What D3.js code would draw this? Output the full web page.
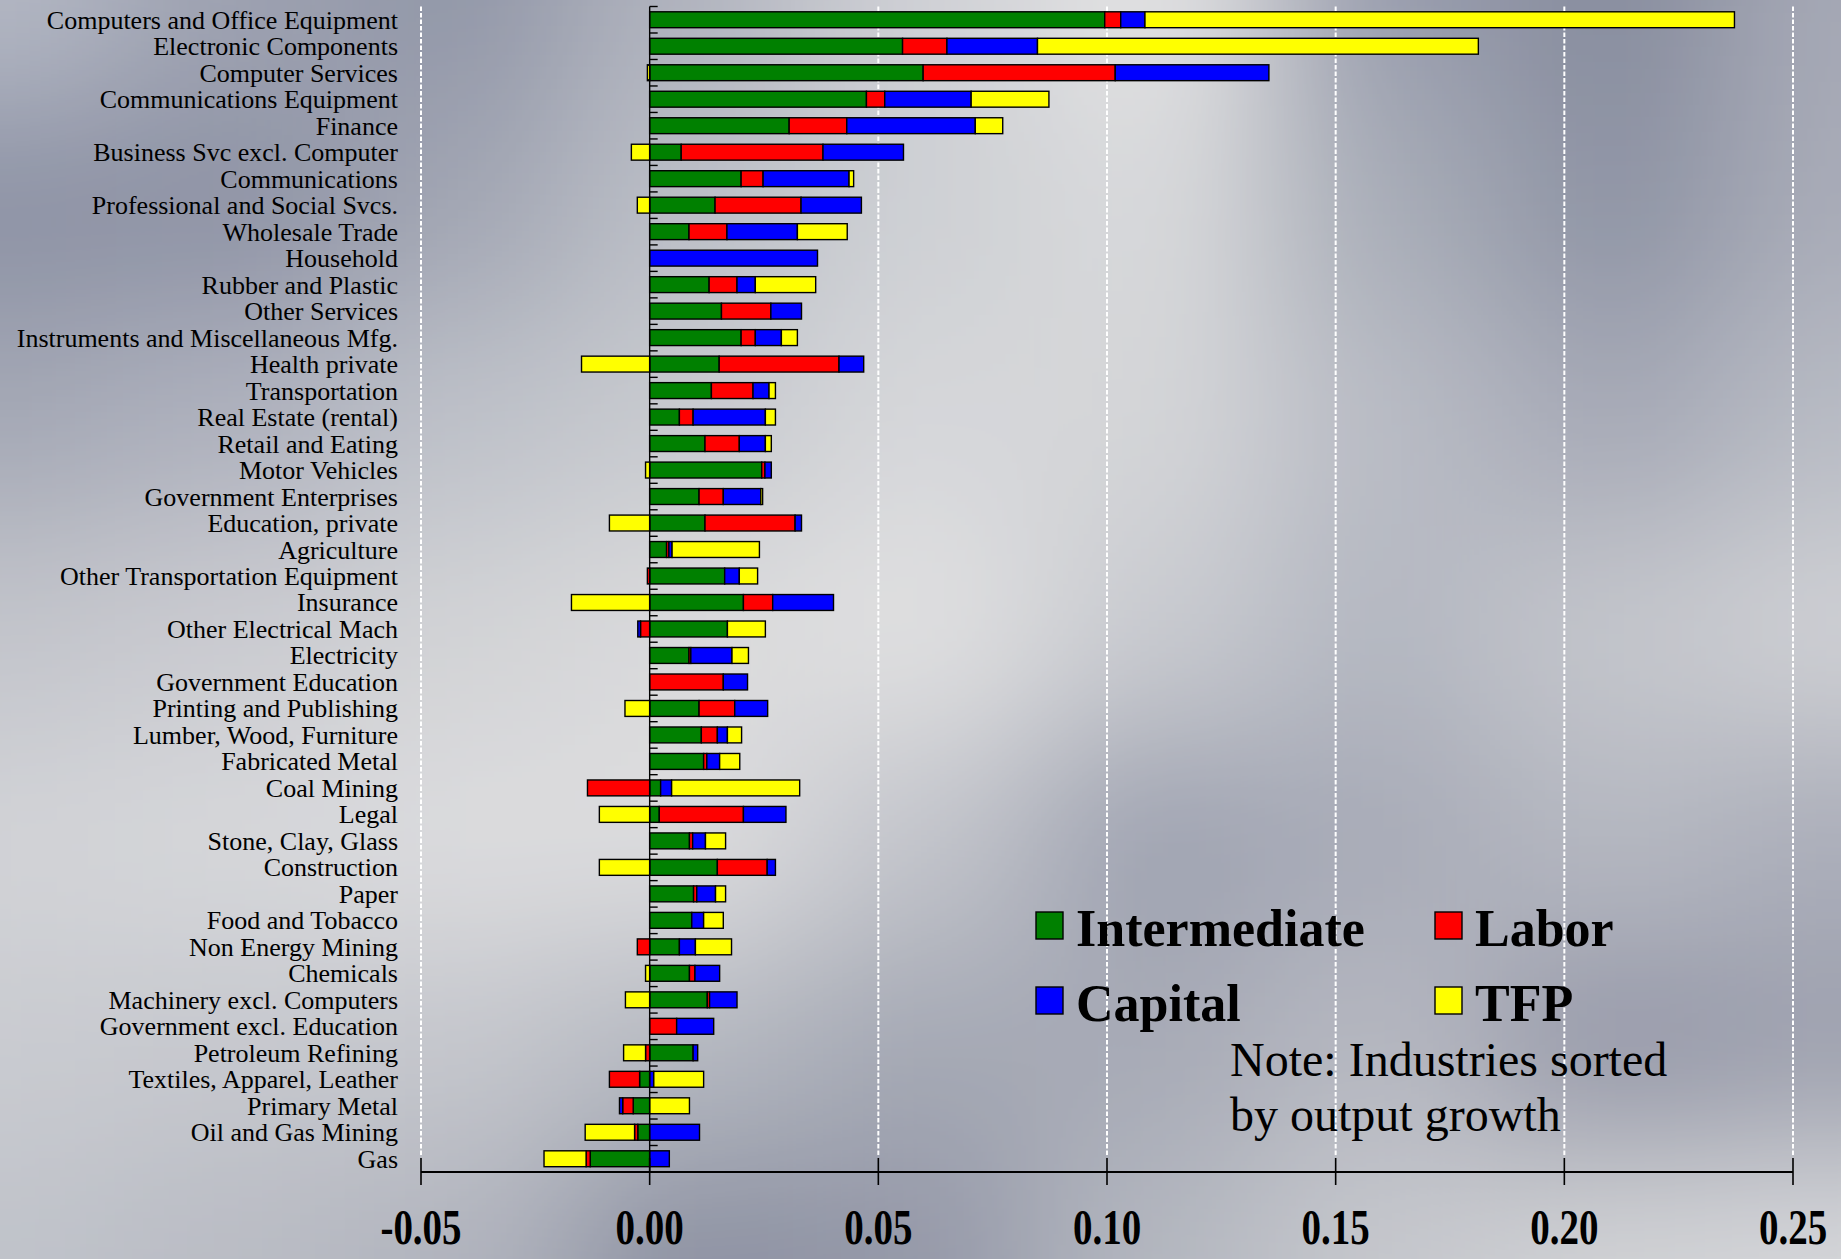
<!DOCTYPE html>
<html>
<head>
<meta charset="utf-8">
<script src="https://cdn.jsdelivr.net/npm/d3@7"></script>
<style>
  html, body { margin: 0; padding: 0; background: #c8cacf; overflow: hidden; }
  svg { display: block; }
  text { font-family: "Liberation Serif", "Times New Roman", serif; }
</style>
</head>
<body>
<svg id="chart" width="1841" height="1259"></svg>
<script>
// Industries, sorted by output growth (top = fastest)
const industries = [
  "Computers and Office Equipment", "Electronic Components", "Computer Services",
  "Communications Equipment", "Finance", "Business Svc excl. Computer", "Communications",
  "Professional and Social Svcs.", "Wholesale Trade", "Household", "Rubber and Plastic",
  "Other Services", "Instruments and Miscellaneous Mfg.", "Health private", "Transportation",
  "Real Estate (rental)", "Retail and Eating", "Motor Vehicles", "Government Enterprises",
  "Education, private", "Agriculture", "Other Transportation Equipment", "Insurance",
  "Other Electrical Mach", "Electricity", "Government Education", "Printing and Publishing",
  "Lumber, Wood, Furniture", "Fabricated Metal", "Coal Mining", "Legal", "Stone, Clay, Glass",
  "Construction", "Paper", "Food and Tobacco", "Non Energy Mining", "Chemicals",
  "Machinery excl. Computers", "Government excl. Education", "Petroleum Refining",
  "Textiles, Apparel, Leather", "Primary Metal", "Oil and Gas Mining", "Gas"
];

// Contributions to output growth by source
const intermediate = [
  0.0995, 0.0553, 0.0598, 0.0474, 0.0305, 0.0069, 0.0200, 0.0143, 0.0086, 0.0000, 0.0130,
  0.0157, 0.0200, 0.0152, 0.0135, 0.0065, 0.0121, 0.0245, 0.0108, 0.0121, 0.0037, 0.0164,
  0.0205, 0.0170, 0.0086, 0.0000, 0.0108, 0.0113, 0.0118, 0.0024, 0.0021, 0.0087, 0.0148,
  0.0096, 0.0092, 0.0065, 0.0087, 0.0126, 0.0000, 0.0095, -0.0022, -0.0036, -0.0026, -0.0130
];
const labor = [
  0.0035, 0.0097, 0.0420, 0.0040, 0.0126, 0.0310, 0.0048, 0.0188, 0.0083, 0.0000, 0.0061,
  0.0108, 0.0031, 0.0262, 0.0091, 0.0030, 0.0075, 0.0007, 0.0053, 0.0197, 0.0005, -0.0005,
  0.0064, -0.0020, 0.0004, 0.0161, 0.0078, 0.0035, 0.0007, -0.0136, 0.0184, 0.0007, 0.0109,
  0.0007, 0.0000, -0.0027, 0.0012, 0.0005, 0.0059, -0.0009, -0.0066, -0.0023, -0.0007, -0.0009
];
const capital = [
  0.0053, 0.0198, 0.0336, 0.0189, 0.0281, 0.0176, 0.0188, 0.0132, 0.0154, 0.0367, 0.0040,
  0.0067, 0.0057, 0.0054, 0.0035, 0.0158, 0.0057, 0.0014, 0.0082, 0.0014, 0.0007, 0.0032,
  0.0133, -0.0006, 0.0090, 0.0053, 0.0072, 0.0022, 0.0028, 0.0024, 0.0093, 0.0028, 0.0018,
  0.0041, 0.0026, 0.0035, 0.0054, 0.0060, 0.0081, 0.0010, 0.0009, -0.0007, 0.0109, 0.0043
];
const tfp = [
  0.1289, 0.0964, -0.0005, 0.0170, 0.0060, -0.0040, 0.0010, -0.0027, 0.0109, 0.0000, 0.0132,
  0.0000, 0.0035, -0.0149, 0.0014, 0.0022, 0.0013, -0.0009, 0.0004, -0.0088, 0.0191, 0.0040,
  -0.0171, 0.0083, 0.0036, 0.0000, -0.0054, 0.0031, 0.0044, 0.0280, -0.0110, 0.0044, -0.0110,
  0.0022, 0.0043, 0.0079, -0.0009, -0.0053, 0.0000, -0.0048, 0.0109, 0.0087, -0.0108, -0.0092
];

const seriesNames = ["Intermediate", "Labor", "Capital", "TFP"];
const seriesColors = ["#008000", "#ff0000", "#0000ff", "#ffff00"];

const tickValues = [-0.05, 0.00, 0.05, 0.10, 0.15, 0.20, 0.25];
const tickLabels = ["-0.05", "0.00", "0.05", "0.10", "0.15", "0.20", "0.25"];

const noteLines = ["Note: Industries sorted", "by output growth"];

// Brushed-metal backdrop: coarse colour grid, blurred
const bgColumns = [0, 230, 460, 690, 920, 1150, 1380, 1610, 1841];
const bgRows = [0, 210, 420, 630, 840, 1050, 1259];
const bgColors = [
  ["#b4b8c4", "#9ea2b1", "#9297a8", "#b0b3be", "#cfd0d5", "#e2e2e3", "#9a9eae", "#878c9e", "#a6a9b6"],
  ["#8c92a4", "#8e93a5", "#a2a6b3", "#bcbfc7", "#ced0d4", "#d8d9db", "#a9adb8", "#8f94a5", "#a9acb8"],
  ["#a4a8b5", "#aeb1bd", "#bec1c9", "#c8cacf", "#d6d7da", "#d4d5d8", "#b9bcc5", "#a6a9b6", "#b8bbc4"],
  ["#c2c4cb", "#cacbd0", "#d2d3d6", "#dadadc", "#e0e0e1", "#c9cbd0", "#b4b7c1", "#c4c6cc", "#cfd0d4"],
  ["#d2d3d7", "#d6d7da", "#dcdcde", "#dcdcde", "#c2c4cb", "#9fa3b1", "#a8abb7", "#b5b8c1", "#aaadb9"],
  ["#c9cbd0", "#c6c8ce", "#c4c6cc", "#b4b7c0", "#a4a8b4", "#a7aab6", "#b6b8c1", "#9598a8", "#9ea1af"],
  ["#c0c3ca", "#b9bcc4", "#b0b3bd", "#8c91a2", "#9498a8", "#b4b7c0", "#c6c8cd", "#d2d3d6", "#d6d7da"]
];

const W = 1841, H = 1259;
const svg = d3.select("#chart");

// ---- background ----
const defs = svg.append("defs");
defs.append("filter")
  .attr("id", "soften")
  .attr("filterUnits", "userSpaceOnUse")
  .attr("x", -400).attr("y", -400).attr("width", W + 800).attr("height", H + 800)
  .append("feGaussianBlur").attr("stdDeviation", 75);

const bg = svg.append("g").attr("filter", "url(#soften)");
bgRows.forEach((cy, r) => {
  bgColumns.forEach((cx, c) => {
    const x0 = c === 0 ? -400 : (bgColumns[c - 1] + cx) / 2;
    const x1 = c === bgColumns.length - 1 ? W + 400 : (bgColumns[c + 1] + cx) / 2;
    const y0 = r === 0 ? -400 : (bgRows[r - 1] + cy) / 2;
    const y1 = r === bgRows.length - 1 ? H + 400 : (bgRows[r + 1] + cy) / 2;
    bg.append("rect")
      .attr("x", x0).attr("y", y0)
      .attr("width", x1 - x0).attr("height", y1 - y0)
      .attr("fill", bgColors[r][c]);
  });
});

// ---- scales ----
const x = d3.scaleLinear().domain([-0.05, 0.25]).range([421, 1793]);
const y = d3.scaleBand().domain(industries).range([6.5, 1172])
  .paddingInner(0.4).paddingOuter(0.2);

const plotTop = 6.5, axisY = 1172;

// dashed white gridlines
svg.append("g").selectAll("line")
  .data(tickValues.filter(v => v !== 0))
  .join("line")
  .attr("x1", d => x(d)).attr("x2", d => x(d))
  .attr("y1", plotTop).attr("y2", axisY - 15)
  .attr("stroke", "#ffffff").attr("stroke-width", 2)
  .attr("stroke-dasharray", "4.5,2");

// ---- stacked bars (diverging about zero) ----
const rows = industries.map((name, i) => ({
  name,
  Intermediate: intermediate[i],
  Labor: labor[i],
  Capital: capital[i],
  TFP: tfp[i]
}));
const stacked = d3.stack().keys(seriesNames).offset(d3.stackOffsetDiverging)(rows);

svg.append("g").selectAll("g")
  .data(stacked)
  .join("g")
  .attr("fill", (d, i) => seriesColors[i])
  .selectAll("rect")
  .data(d => d.filter(s => s[1] - s[0] !== 0))
  .join("rect")
  .attr("x", d => x(Math.min(d[0], d[1])))
  .attr("width", d => Math.abs(x(d[1]) - x(d[0])))
  .attr("y", d => y(d.data.name))
  .attr("height", y.bandwidth())
  .attr("stroke", "#000").attr("stroke-width", 1.4);

// ---- zero axis with category ticks ----
const x0 = x(0);
svg.append("line")
  .attr("x1", x0).attr("x2", x0).attr("y1", plotTop).attr("y2", axisY)
  .attr("stroke", "#000").attr("stroke-width", 1.4);
const boundaries = industries.map(n => y(n) - y.step() * y.paddingInner() / 2)
  .concat([y(industries[industries.length - 1]) + y.bandwidth() + y.step() * y.paddingInner() / 2]);
svg.append("g").selectAll("line")
  .data(boundaries)
  .join("line")
  .attr("x1", x0).attr("x2", x0 + 8)
  .attr("y1", d => d).attr("y2", d => d)
  .attr("stroke", "#000").attr("stroke-width", 1.4);

// category labels
svg.append("g").selectAll("text")
  .data(industries)
  .join("text")
  .attr("x", 398)
  .attr("y", d => y(d) + y.bandwidth() / 2 + 9)
  .attr("text-anchor", "end")
  .attr("font-size", 26)
  .attr("fill", "#000")
  .text(d => d);

// ---- bottom value axis ----
const xAxis = svg.append("g").attr("transform", `translate(0,${axisY})`);
xAxis.append("line")
  .attr("x1", x(-0.05)).attr("x2", x(0.25))
  .attr("stroke", "#000").attr("stroke-width", 2);
xAxis.selectAll(".tick")
  .data(tickValues)
  .join("line")
  .attr("class", "tick")
  .attr("x1", d => x(d)).attr("x2", d => x(d))
  .attr("y1", -14).attr("y2", 13)
  .attr("stroke", "#000").attr("stroke-width", 1.6);
xAxis.selectAll(".tlabel")
  .data(tickValues)
  .join("text")
  .attr("class", "tlabel")
  .attr("transform", d => `translate(${x(d)},72) scale(0.78,1)`)
  .attr("text-anchor", "middle")
  .attr("font-size", 50)
  .attr("font-weight", "bold")
  .attr("fill", "#000")
  .text((d, i) => tickLabels[i]);

// ---- legend ----
const legendPos = [[1036, 912], [1435, 912], [1036, 987], [1435, 987]];
const legend = svg.append("g").selectAll("g")
  .data(seriesNames)
  .join("g")
  .attr("transform", (d, i) => `translate(${legendPos[i][0]},${legendPos[i][1]})`);
legend.append("rect")
  .attr("width", 27).attr("height", 27)
  .attr("fill", (d, i) => seriesColors[i])
  .attr("stroke", "#000").attr("stroke-width", 1.4);
legend.append("text")
  .attr("x", 40).attr("y", 34)
  .attr("font-size", 52).attr("font-weight", "bold")
  .attr("fill", "#000")
  .text(d => d);

// note
svg.append("g").selectAll("text")
  .data(noteLines)
  .join("text")
  .attr("x", 1230)
  .attr("y", (d, i) => 1076 + i * 55)
  .attr("font-size", 48)
  .attr("fill", "#000")
  .text(d => d);
</script>
</body>
</html>
